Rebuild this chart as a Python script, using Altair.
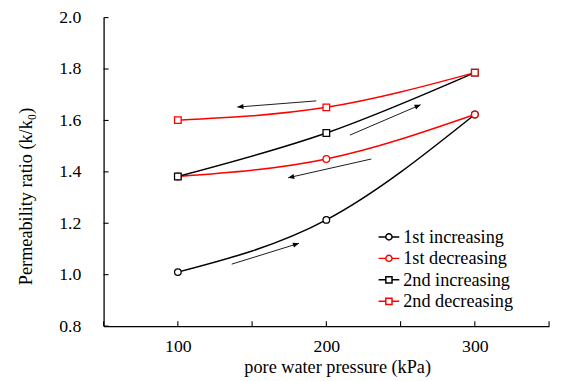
import math
import altair as alt
import pandas as pd

# ---- data ----
pressure = [100, 200, 300]
series_names = ["1st increasing", "1st decreasing", "2nd increasing", "2nd decreasing"]
first_inc = [1.010, 1.213, 1.623]
first_dec = [1.382, 1.450, 1.623]
second_inc = [1.382, 1.551, 1.786]
second_dec = [1.601, 1.651, 1.786]
series_values = [first_inc, first_dec, second_inc, second_dec]
series_colors = ["#000000", "#ff0000", "#000000", "#ff0000"]
series_markers = ["circle", "circle", "square", "square"]

x_tick_values = [50, 100, 150, 200, 250, 300, 350]
x_label_values = [100, 200, 300]
y_tick_values = [0.8, 1.0, 1.2, 1.4, 1.6, 1.8, 2.0]

# annotation arrows (data units): start -> end (head at end)
arrow_ids = ["a1", "a2", "a3", "a4"]
arrow_x0 = [136.3, 230.3, 215.9, 193.2]
arrow_y0 = [1.041, 1.450, 1.543, 1.676]
arrow_x1 = [181.6, 174.3, 263.5, 140.1]
arrow_y1 = [1.122, 1.377, 1.661, 1.652]

W, H = 452, 313
X_DOM = [50, 350]
Y_DOM = [0.8, 2.0]

rows = []
for si, (name, vals, mk, col) in enumerate(zip(series_names, series_values, series_markers, series_colors)):
    for i, (p, v) in enumerate(zip(pressure, vals)):
        rows.append({"series": name, "pressure": p, "ratio": v, "marker": mk,
                     "col": col, "order": i, "sidx": si})
df = pd.DataFrame(rows)

arrow_rows = []
head_rows = []
px_x = W / (X_DOM[1] - X_DOM[0])
px_y = H / (Y_DOM[1] - Y_DOM[0])
for aid, x0, y0, x1, y1 in zip(arrow_ids, arrow_x0, arrow_y0, arrow_x1, arrow_y1):
    arrow_rows.append({"id": aid, "x": x0, "y": y0, "k": 0})
    arrow_rows.append({"id": aid, "x": x1, "y": y1, "k": 1})
    ang = math.degrees(math.atan2(-(y1 - y0) * px_y, (x1 - x0) * px_x)) % 360
    head_rows.append({"id": aid, "x": x1, "y": y1, "angle": ang})
arrows = pd.DataFrame(arrow_rows)
heads = pd.DataFrame(head_rows)

xticks = pd.DataFrame({"v": x_tick_values})
yticks = pd.DataFrame({"v": y_tick_values})

FONT = "Liberation Serif"

x_scale = alt.Scale(domain=X_DOM, nice=False, zero=False)
y_scale = alt.Scale(domain=Y_DOM, nice=False, zero=False)
color_scale = alt.Scale(domain=series_names, range=series_colors)

x_axis = alt.Axis(values=x_label_values, title="pore water pressure (kPa)", grid=False,
                  ticks=False, tickSize=0, labelPadding=12, domainColor="black",
                  domainWidth=1.3, labelFontSize=18, titleFontSize=18.5,
                  labelFont=FONT, titleFont=FONT, labelColor="black", titleColor="black",
                  titleX=237, titleY=47, titleBaseline="alphabetic", titleFontWeight="normal")
y_axis = alt.Axis(values=y_tick_values, format=".1f", title="Permeability ratio (k/k₀)",
                  grid=False, ticks=False, tickSize=0, labelPadding=23, domainColor="black",
                  domainWidth=1.3, labelFontSize=18, titleFontSize=18.5,
                  labelFont=FONT, titleFont=FONT, labelColor="black", titleColor="black",
                  titleX=-79, titleY=181, titleAngle=-90, titleAlign="center",
                  titleBaseline="middle", titleFontWeight="normal")


def xq(field):
    return alt.X(field, scale=x_scale, axis=x_axis)


def yq(field):
    return alt.Y(field, scale=y_scale, axis=y_axis)


lines = alt.Chart(df).mark_line(interpolate="monotone", strokeWidth=1.5).encode(
    x=xq("pressure:Q"), y=yq("ratio:Q"),
    color=alt.Color("col:N", scale=None),
    detail="series:N",
    order="order:Q",
)


def marker_layer(shape_name):
    return alt.Chart(df).transform_filter(
        alt.datum.marker == shape_name
    ).mark_point(shape=shape_name, filled=False, fill="white", fillOpacity=1, size=45,
                 strokeWidth=1.3).encode(
        x=xq("pressure:Q"),
        y=yq("ratio:Q"),
        color=alt.Color("col:N", scale=None),
        order="sidx:Q",
    )


circles = marker_layer("circle")
squares = marker_layer("square")

circle_path = "M-1,0H-0.3M0.3,0H1M-0.3,0A0.3,0.3 0 1 1 0.3,0A0.3,0.3 0 1 1 -0.3,0"
square_path = "M-1,0H-0.3M0.3,0H1M-0.3,-0.3H0.3V0.3H-0.3Z"

legend_props = dict(title=None, orient="none", legendX=278, legendY=211,
                    symbolSize=441, symbolStrokeWidth=1.5, symbolOpacity=1,
                    labelFontSize=18.5, labelFont=FONT, labelColor="black",
                    labelOffset=3, rowPadding=0.8, padding=0, labelLimit=300)

legend_layer = alt.Chart(df).mark_point(filled=False, opacity=0).encode(
    x=xq("pressure:Q"),
    y=yq("ratio:Q"),
    color=alt.Color("series:N", scale=color_scale, legend=alt.Legend(**legend_props)),
    shape=alt.Shape("series:N", scale=alt.Scale(domain=series_names,
                                                range=[circle_path, circle_path, square_path, square_path]),
                    legend=alt.Legend(**legend_props)),
)

arrow_lines = alt.Chart(arrows).mark_line(color="black", strokeWidth=0.9).encode(
    x=xq("x:Q"),
    y=yq("y:Q"),
    detail="id:N",
    order="k:Q",
)

arrow_heads = alt.Chart(heads).mark_point(
    shape="M0,0L-1,-0.42L-1,0.42Z", filled=True, color="black", size=150, opacity=1
).encode(
    x=xq("x:Q"),
    y=yq("y:Q"),
    angle=alt.Angle("angle:Q", scale=None),
)

xtick_rules = alt.Chart(xticks).mark_rule(color="black", strokeWidth=1.1).encode(
    x=xq("v:Q"), y=alt.value(H - 5), y2=alt.value(H)
)
ytick_rules = alt.Chart(yticks).mark_rule(color="black", strokeWidth=1.1).encode(
    y=yq("v:Q"), x=alt.value(0), x2=alt.value(5)
)

chart = alt.layer(
    lines, legend_layer, circles, squares, arrow_lines, arrow_heads, xtick_rules, ytick_rules
).properties(
    width=W, height=H,
    background="white",
    autosize=alt.AutoSizeParams(type="none"),
    padding={"left": 97, "top": 7, "right": 5, "bottom": 55},
).configure_view(
    stroke=None
).configure_axis(
    labelFont=FONT, titleFont=FONT, labelColor="black", titleColor="black"
).configure_legend(
    labelFont=FONT
).configure_text(
    font=FONT
)

chart.save("out.html", embed_options={"renderer": "svg", "actions": False})
